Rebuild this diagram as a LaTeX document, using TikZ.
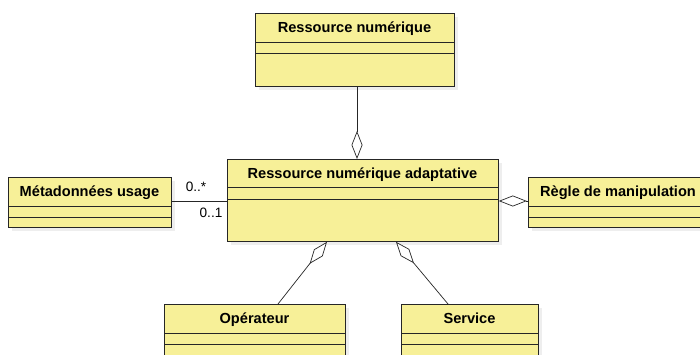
\documentclass[tikz,border=0pt]{standalone}
\usepackage{fontspec}
\setmainfont{Liberation Sans}
\usetikzlibrary{arrows.meta,calc}
\definecolor{classfill}{RGB}{247,240,152}
\definecolor{shadowc}{RGB}{238,238,238}
\tikzset{
  classbox/.style={draw=black!85, line width=0.8pt, fill=classfill, anchor=north west, inner sep=0pt},
  classtitle/.style={font=\bfseries\fontsize{14.6}{16}\selectfont, inner sep=0pt, anchor=base},
  mult/.style={font=\fontsize{13.6}{15}\selectfont, inner sep=0pt},
  assoc/.style={draw=black!85, line width=0.7pt},
  aggr/.style={assoc, {Diamond[open, length=28pt, width=11pt, fill=white]}-},
}
% \umlclass{name}{x}{y}{w}{h}{header h}{attr h}{title}
\newcommand{\umlclass}[8]{%
  \fill[shadowc] (#2+4,#3+4) rectangle ++(#4,#5);
  \node[classbox, minimum width=#4pt, minimum height=#5pt] (#1) at (#2,#3) {};
  \draw[black!85, line width=0.8pt] (#2,#3+#6) -- ++(#4,0) (#2,#3+#6+#7) -- ++(#4,0);
  \node[classtitle] (#1-t) at (#2+#4/2,#3+#6/2+5.3) {#8};
}
\begin{document}
\begin{tikzpicture}[x=1pt,y=-1pt]
\useasboundingbox (0,0) rectangle (700,355);
\fill[white] (0,0) rectangle (700,355);
\umlclass{rn}{255}{13}{199}{73}{29}{11}{Ressource numérique}
\umlclass{rna}{227}{159}{271}{82}{28}{12}{Ressource numérique adaptative}
\umlclass{meta}{8}{177}{163}{50}{29}{11}{Métadonnées usage}
\umlclass{regle}{528}{177}{180}{50}{29}{11}{Règle de manipulation}
\umlclass{op}{164}{304}{181}{60}{29}{11}{Opérateur}
\umlclass{serv}{401}{304}{137}{60}{29}{11}{Service}
% connection points
\coordinate (rnb) at ($(rn.south west)+(102,0)$);
\coordinate (rnat) at ($(rna.north west)+(130,0)$);
\coordinate (rnab1) at ($(rna.south west)+(100,0)$);
\coordinate (rnab2) at ($(rna.south west)+(169,0)$);
\coordinate (rnal) at ($(rna.north west)+(0,42)$);
\coordinate (rnar) at ($(rna.north east)+(0,42)$);
\coordinate (metar) at ($(meta.north east)+(0,24)$);
\coordinate (reglel) at ($(regle.north west)+(0,24)$);
\coordinate (opt) at ($(op.north west)+(114,0)$);
\coordinate (servt) at ($(serv.north west)+(47,0)$);
\draw[aggr] (rnat) -- (rnb);
\draw[aggr] (rnar) -- (reglel);
\draw[aggr] (rnab1) -- (opt);
\draw[aggr] (rnab2) -- (servt);
\draw[assoc] (metar) -- (rnal);
\node[mult] (m1) at (196,187) {0..*};
\node[mult] (m2) at (211,213) {0..1};
\end{tikzpicture}
\end{document}
